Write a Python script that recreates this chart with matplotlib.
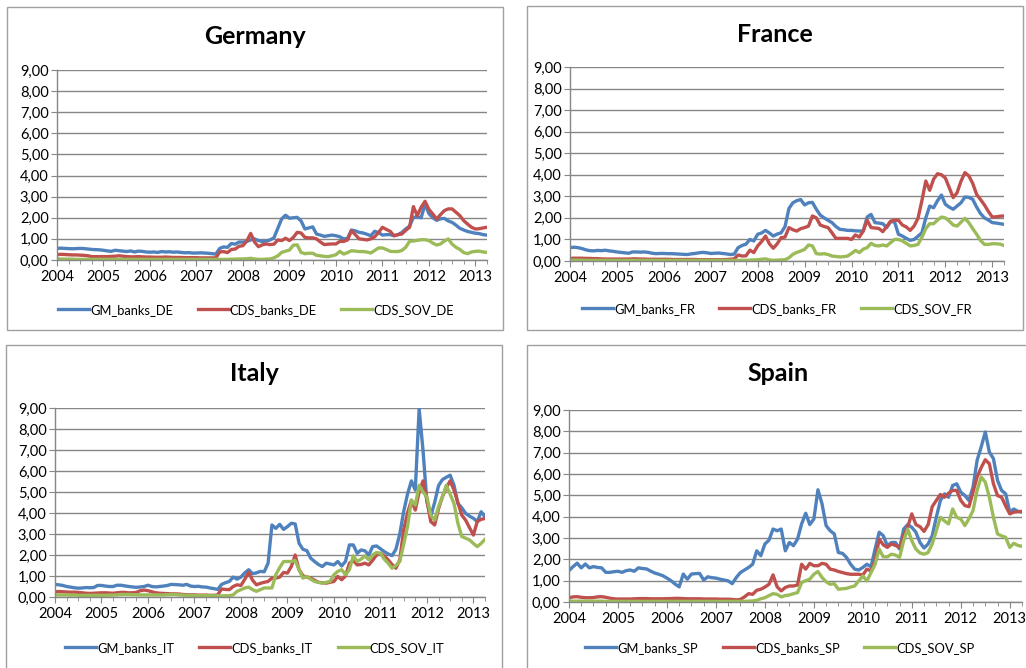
import numpy as np
import matplotlib
matplotlib.use('Agg')
import matplotlib.pyplot as plt
from matplotlib.patches import Rectangle
from matplotlib.ticker import FuncFormatter, MultipleLocator

plt.rcParams['font.family'] = ['Lato', 'DejaVu Sans']

# ================= data: monthly values, Jan 2004 - Apr 2013 =================
start_year = 2004
years = list(range(2004, 2014))

de_gm = [0.55, 0.56, 0.55, 0.54, 0.53, 0.54, 0.55, 0.54, 0.52, 0.50, 0.49, 0.48,
         0.46, 0.43, 0.41, 0.46, 0.44, 0.42, 0.40, 0.43, 0.38, 0.42, 0.41, 0.38,
         0.37, 0.38, 0.36, 0.40, 0.38, 0.39, 0.37, 0.38, 0.36, 0.34, 0.35, 0.33,
         0.33, 0.34, 0.33, 0.32, 0.30, 0.28, 0.55, 0.62, 0.60, 0.78, 0.75, 0.85,
         0.85, 0.88, 0.95, 1.00, 0.92, 0.88, 0.90, 0.95, 1.05, 1.50, 1.95, 2.12,
         1.98, 2.00, 2.02, 1.85, 1.47, 1.52, 1.57, 1.23, 1.18, 1.12, 1.15, 1.18,
         1.15, 1.10, 1.00, 1.02, 1.42, 1.38, 1.31, 1.28, 1.22, 1.15, 1.36, 1.30,
         1.18, 1.20, 1.20, 1.15, 1.20, 1.30, 1.47, 1.60, 2.02, 2.05, 2.00, 2.65,
         2.20, 2.00, 1.88, 1.95, 1.97, 1.85, 1.78, 1.65, 1.50, 1.42, 1.35, 1.31,
         1.27, 1.25, 1.20, 1.18]
de_cds = [0.25, 0.27, 0.26, 0.25, 0.24, 0.24, 0.23, 0.22, 0.20, 0.16, 0.16, 0.16,
          0.16, 0.16, 0.17, 0.18, 0.20, 0.18, 0.16, 0.15, 0.15, 0.16, 0.15, 0.14,
          0.14, 0.13, 0.13, 0.13, 0.14, 0.13, 0.12, 0.12, 0.12, 0.11, 0.11, 0.11,
          0.11, 0.10, 0.10, 0.10, 0.10, 0.10, 0.38, 0.40, 0.35, 0.50, 0.52, 0.65,
          0.68, 0.90, 1.26, 0.85, 0.63, 0.72, 0.76, 0.73, 0.75, 0.95, 0.92, 1.03,
          0.92, 1.07, 1.31, 1.28, 1.07, 1.05, 1.05, 1.00, 0.85, 0.73, 0.75, 0.76,
          0.76, 0.88, 0.88, 0.95, 1.39, 1.20, 1.00, 0.98, 0.95, 1.00, 1.10, 1.30,
          1.55, 1.45, 1.36, 1.15, 1.20, 1.23, 1.40, 1.55, 2.53, 2.10, 2.50, 2.78,
          2.40, 2.18, 1.94, 2.15, 2.34, 2.42, 2.42, 2.26, 2.10, 1.86, 1.70, 1.55,
          1.47, 1.48, 1.52, 1.55]
de_sov = [0.05, 0.05, 0.04, 0.04, 0.04, 0.03, 0.03, 0.03, 0.03, 0.03, 0.03, 0.03,
          0.03, 0.03, 0.03, 0.03, 0.03, 0.03, 0.03, 0.03, 0.03, 0.03, 0.03, 0.03,
          0.03, 0.03, 0.03, 0.03, 0.03, 0.03, 0.03, 0.03, 0.03, 0.03, 0.03, 0.03,
          0.03, 0.03, 0.03, 0.03, 0.03, 0.03, 0.03, 0.03, 0.03, 0.04, 0.04, 0.05,
          0.05, 0.06, 0.08, 0.05, 0.03, 0.03, 0.04, 0.05, 0.10, 0.20, 0.36, 0.42,
          0.47, 0.70, 0.72, 0.36, 0.30, 0.32, 0.32, 0.22, 0.20, 0.17, 0.16, 0.20,
          0.25, 0.41, 0.28, 0.35, 0.44, 0.42, 0.40, 0.40, 0.38, 0.33, 0.45, 0.57,
          0.57, 0.50, 0.41, 0.40, 0.40, 0.45, 0.60, 0.88, 0.90, 0.93, 0.96, 0.96,
          0.92, 0.80, 0.71, 0.76, 0.90, 1.00, 0.75, 0.60, 0.50, 0.35, 0.30, 0.38,
          0.41, 0.42, 0.38, 0.36]

fr_gm = [0.62, 0.64, 0.62, 0.58, 0.52, 0.48, 0.47, 0.49, 0.48, 0.50, 0.47, 0.45,
         0.42, 0.40, 0.38, 0.36, 0.42, 0.42, 0.41, 0.42, 0.40, 0.36, 0.34, 0.35,
         0.35, 0.34, 0.34, 0.33, 0.32, 0.31, 0.30, 0.33, 0.35, 0.38, 0.40, 0.38,
         0.35, 0.36, 0.37, 0.35, 0.33, 0.30, 0.32, 0.62, 0.72, 0.78, 1.00, 0.93,
         1.24, 1.30, 1.42, 1.30, 1.16, 1.25, 1.31, 1.60, 2.44, 2.70, 2.80, 2.85,
         2.60, 2.70, 2.72, 2.40, 2.13, 2.00, 1.89, 1.78, 1.60, 1.47, 1.45, 1.42,
         1.42, 1.40, 1.39, 1.39, 2.04, 2.16, 1.78, 1.76, 1.73, 1.55, 1.82, 1.82,
         1.24, 1.16, 1.05, 0.96, 1.00, 1.15, 1.31, 2.00, 2.55, 2.47, 2.80, 3.06,
         2.63, 2.50, 2.40, 2.55, 2.70, 2.97, 2.95, 2.86, 2.50, 2.20, 2.00, 1.90,
         1.78, 1.76, 1.73, 1.70]
fr_cds = [0.12, 0.13, 0.13, 0.13, 0.12, 0.12, 0.11, 0.11, 0.10, 0.09, 0.09, 0.09,
          0.09, 0.09, 0.09, 0.09, 0.10, 0.10, 0.09, 0.09, 0.08, 0.08, 0.08, 0.08,
          0.08, 0.08, 0.07, 0.07, 0.07, 0.07, 0.07, 0.07, 0.07, 0.06, 0.06, 0.06,
          0.06, 0.06, 0.06, 0.06, 0.07, 0.08, 0.10, 0.28, 0.23, 0.24, 0.50, 0.39,
          0.70, 0.90, 1.16, 0.80, 0.59, 0.80, 1.08, 1.11, 1.55, 1.45, 1.39, 1.50,
          1.55, 1.62, 2.09, 2.00, 1.67, 1.60, 1.55, 1.31, 1.05, 1.05, 1.05, 1.05,
          1.00, 1.21, 1.11, 1.39, 1.89, 1.55, 1.53, 1.51, 1.36, 1.60, 1.85, 1.89,
          1.89, 1.67, 1.58, 1.42, 1.62, 1.98, 2.80, 3.71, 3.28, 3.80, 4.05, 4.00,
          3.85, 3.40, 2.94, 3.17, 3.70, 4.10, 3.95, 3.60, 3.09, 2.85, 2.60, 2.30,
          2.04, 2.05, 2.08, 2.09]
fr_sov = [0.04, 0.04, 0.04, 0.04, 0.03, 0.03, 0.03, 0.03, 0.03, 0.03, 0.03, 0.03,
          0.03, 0.03, 0.03, 0.03, 0.03, 0.03, 0.03, 0.03, 0.03, 0.03, 0.03, 0.03,
          0.03, 0.03, 0.03, 0.03, 0.03, 0.03, 0.03, 0.03, 0.03, 0.03, 0.03, 0.03,
          0.03, 0.03, 0.03, 0.03, 0.03, 0.03, 0.03, 0.03, 0.03, 0.03, 0.04, 0.05,
          0.06, 0.08, 0.10, 0.05, 0.03, 0.04, 0.05, 0.06, 0.15, 0.31, 0.40, 0.46,
          0.54, 0.74, 0.70, 0.34, 0.32, 0.34, 0.30, 0.23, 0.21, 0.19, 0.20, 0.23,
          0.35, 0.49, 0.39, 0.55, 0.62, 0.82, 0.72, 0.70, 0.74, 0.70, 0.85, 1.00,
          1.00, 0.93, 0.82, 0.70, 0.72, 0.77, 1.10, 1.50, 1.73, 1.73, 1.90, 2.04,
          2.00, 1.85, 1.67, 1.62, 1.80, 1.98, 1.78, 1.50, 1.24, 0.95, 0.77, 0.77,
          0.80, 0.80, 0.78, 0.72]

it_gm = [0.60, 0.58, 0.55, 0.50, 0.47, 0.44, 0.42, 0.43, 0.45, 0.44, 0.45, 0.55,
         0.55, 0.52, 0.50, 0.50, 0.56, 0.56, 0.53, 0.50, 0.48, 0.46, 0.48, 0.50,
         0.56, 0.50, 0.48, 0.50, 0.52, 0.55, 0.60, 0.59, 0.58, 0.56, 0.60, 0.52,
         0.50, 0.51, 0.48, 0.47, 0.43, 0.40, 0.36, 0.60, 0.68, 0.74, 0.95, 0.85,
         0.95, 1.15, 1.30, 1.11, 1.15, 1.22, 1.20, 1.61, 3.43, 3.27, 3.46, 3.22,
         3.35, 3.51, 3.48, 2.56, 2.27, 2.21, 1.85, 1.69, 1.55, 1.45, 1.61, 1.57,
         1.53, 1.69, 1.48, 1.70, 2.48, 2.48, 2.08, 2.24, 2.20, 2.00, 2.40, 2.43,
         2.30, 2.16, 2.05, 1.97, 2.27, 3.00, 4.06, 4.90, 5.53, 5.09, 8.96, 6.98,
         4.53, 3.85, 4.50, 5.30, 5.59, 5.70, 5.80, 5.32, 4.45, 4.25, 3.98, 3.85,
         3.75, 3.59, 4.06, 3.82]
it_cds = [0.25, 0.26, 0.25, 0.24, 0.23, 0.23, 0.22, 0.20, 0.18, 0.17, 0.18, 0.19,
          0.20, 0.20, 0.19, 0.18, 0.20, 0.22, 0.22, 0.20, 0.20, 0.22, 0.30, 0.33,
          0.30, 0.25, 0.20, 0.18, 0.17, 0.16, 0.15, 0.15, 0.14, 0.12, 0.11, 0.10,
          0.10, 0.09, 0.09, 0.09, 0.08, 0.08, 0.10, 0.38, 0.36, 0.35, 0.50, 0.58,
          0.55, 0.85, 1.17, 0.80, 0.58, 0.65, 0.70, 0.74, 0.90, 0.90, 0.95, 1.17,
          1.14, 1.45, 2.00, 1.30, 1.01, 0.95, 0.90, 0.80, 0.70, 0.68, 0.66, 0.70,
          0.74, 0.98, 0.82, 1.00, 1.61, 1.74, 1.53, 1.55, 1.61, 1.53, 1.75, 2.00,
          2.08, 1.95, 1.77, 1.55, 1.37, 1.77, 3.19, 4.00, 4.61, 4.14, 5.00, 5.53,
          4.61, 3.59, 3.43, 4.20, 4.77, 5.20, 5.53, 5.09, 4.50, 3.90, 3.66, 3.30,
          2.95, 3.59, 3.70, 3.74]
it_sov = [0.10, 0.10, 0.10, 0.10, 0.09, 0.09, 0.08, 0.08, 0.08, 0.08, 0.08, 0.08,
          0.08, 0.08, 0.09, 0.09, 0.10, 0.12, 0.12, 0.12, 0.11, 0.11, 0.10, 0.10,
          0.10, 0.10, 0.10, 0.10, 0.10, 0.11, 0.12, 0.12, 0.10, 0.09, 0.08, 0.08,
          0.07, 0.07, 0.07, 0.07, 0.06, 0.06, 0.06, 0.05, 0.06, 0.06, 0.10, 0.27,
          0.35, 0.43, 0.47, 0.35, 0.27, 0.35, 0.43, 0.43, 0.43, 1.06, 1.40, 1.69,
          1.69, 1.69, 1.74, 1.30, 0.90, 0.98, 0.85, 0.74, 0.70, 0.66, 0.70, 0.74,
          1.06, 1.22, 1.30, 1.06, 1.30, 1.96, 1.69, 1.80, 1.96, 1.77, 2.00, 2.12,
          2.08, 1.80, 1.61, 1.37, 1.50, 1.69, 2.50, 3.35, 4.61, 4.38, 5.32, 5.00,
          4.77, 3.90, 3.66, 4.30, 4.77, 5.32, 4.90, 4.45, 3.51, 2.88, 2.80, 2.72,
          2.55, 2.40, 2.55, 2.75]

sp_gm = [1.47, 1.66, 1.82, 1.60, 1.78, 1.60, 1.66, 1.62, 1.60, 1.39, 1.39, 1.42,
         1.44, 1.39, 1.47, 1.50, 1.44, 1.60, 1.57, 1.55, 1.45, 1.36, 1.30, 1.23,
         1.12, 1.00, 0.84, 0.71, 1.31, 1.07, 1.31, 1.33, 1.34, 1.03, 1.18, 1.14,
         1.12, 1.07, 1.03, 0.99, 0.86, 1.15, 1.38, 1.50, 1.62, 1.77, 2.40, 2.17,
         2.72, 2.90, 3.42, 3.34, 3.42, 2.40, 2.79, 2.64, 2.95, 3.66, 4.16, 3.63,
         3.89, 5.26, 4.60, 3.58, 3.34, 3.19, 2.32, 2.28, 2.09, 1.77, 1.54, 1.50,
         1.62, 1.77, 1.65, 2.48, 3.27, 3.11, 2.64, 2.79, 2.79, 2.48, 3.42, 3.63,
         3.50, 3.27, 2.79, 2.53, 2.72, 3.11, 3.97, 4.76, 5.07, 4.91, 5.46, 5.54,
         5.15, 4.99, 4.76, 5.38, 6.64, 7.27, 7.97, 7.03, 6.72, 5.70, 5.23, 5.07,
         4.21, 4.36, 4.25, 4.21]
sp_cds = [0.20, 0.24, 0.25, 0.22, 0.20, 0.20, 0.21, 0.24, 0.25, 0.22, 0.18, 0.15,
          0.14, 0.14, 0.14, 0.14, 0.15, 0.16, 0.16, 0.16, 0.15, 0.15, 0.15, 0.15,
          0.16, 0.16, 0.17, 0.17, 0.16, 0.15, 0.15, 0.15, 0.15, 0.14, 0.14, 0.14,
          0.14, 0.13, 0.13, 0.13, 0.12, 0.10, 0.12, 0.24, 0.39, 0.36, 0.55, 0.60,
          0.70, 0.83, 1.27, 0.71, 0.52, 0.68, 0.75, 0.75, 0.80, 1.77, 1.54, 1.81,
          1.70, 1.70, 1.81, 1.77, 1.54, 1.50, 1.43, 1.38, 1.33, 1.30, 1.30, 1.30,
          1.27, 1.54, 1.46, 1.93, 2.95, 2.68, 2.56, 2.72, 2.65, 2.56, 3.11, 3.53,
          4.13, 3.63, 3.53, 3.31, 3.63, 4.47, 4.76, 5.04, 4.91, 5.10, 5.23, 5.23,
          4.76, 4.52, 4.47, 5.15, 5.86, 6.30, 6.67, 6.48, 5.54, 4.99, 4.91, 4.50,
          4.13, 4.21, 4.23, 4.25]
sp_sov = [0.04, 0.04, 0.04, 0.04, 0.04, 0.04, 0.04, 0.04, 0.04, 0.03, 0.03, 0.03,
          0.03, 0.03, 0.03, 0.03, 0.03, 0.03, 0.03, 0.03, 0.03, 0.03, 0.03, 0.03,
          0.03, 0.03, 0.03, 0.03, 0.03, 0.03, 0.03, 0.03, 0.03, 0.03, 0.03, 0.03,
          0.03, 0.03, 0.03, 0.03, 0.03, 0.03, 0.03, 0.03, 0.04, 0.05, 0.08, 0.15,
          0.20, 0.30, 0.39, 0.36, 0.24, 0.30, 0.33, 0.39, 0.44, 0.91, 1.00, 1.07,
          1.30, 1.43, 1.15, 0.95, 0.83, 0.86, 0.60, 0.62, 0.64, 0.70, 0.75, 0.99,
          1.22, 0.99, 1.38, 1.77, 2.48, 2.12, 2.12, 2.24, 2.20, 2.09, 2.87, 3.42,
          2.87, 2.48, 2.30, 2.24, 2.32, 2.72, 3.34, 3.97, 3.80, 3.66, 4.36, 3.97,
          3.89, 3.58, 3.90, 4.29, 5.23, 5.86, 5.62, 4.91, 3.97, 3.19, 3.10, 3.03,
          2.56, 2.75, 2.65, 2.61]

# ================= layout (pixel boxes from the reference) =================
W, H = 1026, 668
BLUE, RED, GREEN = '#4F81BD', '#C0504D', '#9BBB59'
GRID = '#868686'

panels = [
    # title, code, series, axes box, frame box, title pos, legend pos
    ('Germany', 'DE', (de_gm, de_cds, de_sov), (57, 70, 487, 260), (7, 7, 503, 330), (255, 36), (256, 310)),
    ('France', 'FR', (fr_gm, fr_cds, fr_sov), (570, 67, 1004, 261), (527, 6, 1023, 330), (775, 35), (777, 309)),
    ('Italy', 'IT', (it_gm, it_cds, it_sov), (55, 408, 485, 597), (6, 345, 502, 700), (254, 373), (255, 648)),
    ('Spain', 'SP', (sp_gm, sp_cds, sp_sov), (569, 410, 1022, 602), (527, 345, 1040, 700), (778, 373), (780, 648)),
]


def fig_rect(x0, y0, x1, y1):
    return [x0 / W, 1 - y1 / H, (x1 - x0) / W, (y1 - y0) / H]


fig = plt.figure(figsize=(W / 100, H / 100), dpi=100)
fig.patch.set_facecolor('white')

comma_fmt = FuncFormatter(lambda v, pos: f'{v:.2f}'.replace('.', ','))

for title, code, series, box, frame, tpos, lpos in panels:
    fx0, fy0, fx1, fy1 = frame
    fig.patches.append(Rectangle((fx0 / W, 1 - fy1 / H), (fx1 - fx0) / W, (fy1 - fy0) / H,
                                 transform=fig.transFigure, fill=False,
                                 edgecolor='#A0A0A0', linewidth=1.0, zorder=0))
    fig.text(tpos[0] / W, 1 - tpos[1] / H, title, ha='center', va='center',
             fontsize=18, fontweight='bold')

    ax = fig.add_axes(fig_rect(*box))
    n = len(series[0])
    x = start_year + np.arange(n) / 12
    names = [f'GM_banks_{code}', f'CDS_banks_{code}', f'CDS_SOV_{code}']
    for vals, col, name in zip(series, (BLUE, RED, GREEN), names):
        ax.plot(x, vals, color=col, linewidth=2.4, label=name, solid_joinstyle='round')

    ax.set_xlim(start_year, start_year + (n - 1) / 12)
    ax.set_ylim(0, 9)
    ax.set_yticks(range(0, 10))
    ax.yaxis.set_major_formatter(comma_fmt)
    ax.set_xticks(years)
    ax.set_xticklabels([str(y) for y in years])
    ax.xaxis.set_minor_locator(MultipleLocator(0.25))

    ax.grid(axis='y', color=GRID, linewidth=1.0)
    ax.set_axisbelow(True)
    for s in ('top', 'right'):
        ax.spines[s].set_visible(False)
    for s in ('left', 'bottom'):
        ax.spines[s].set_color(GRID)
        ax.spines[s].set_linewidth(1.0)
    ax.tick_params(axis='y', direction='out', length=4, color=GRID, labelsize=10.5, pad=2)
    ax.tick_params(axis='x', which='major', direction='out', length=4, color=GRID, labelsize=10.5, pad=3)
    ax.tick_params(axis='x', which='minor', direction='out', length=3, color=GRID)

    ax.legend(loc='center', bbox_to_anchor=(lpos[0] / W, 1 - lpos[1] / H),
              bbox_transform=fig.transFigure, ncol=3, frameon=False,
              fontsize=9.3, handlelength=2.4, handletextpad=0.1, columnspacing=1.9)

fig.savefig('out.png', dpi=100, facecolor='white')
